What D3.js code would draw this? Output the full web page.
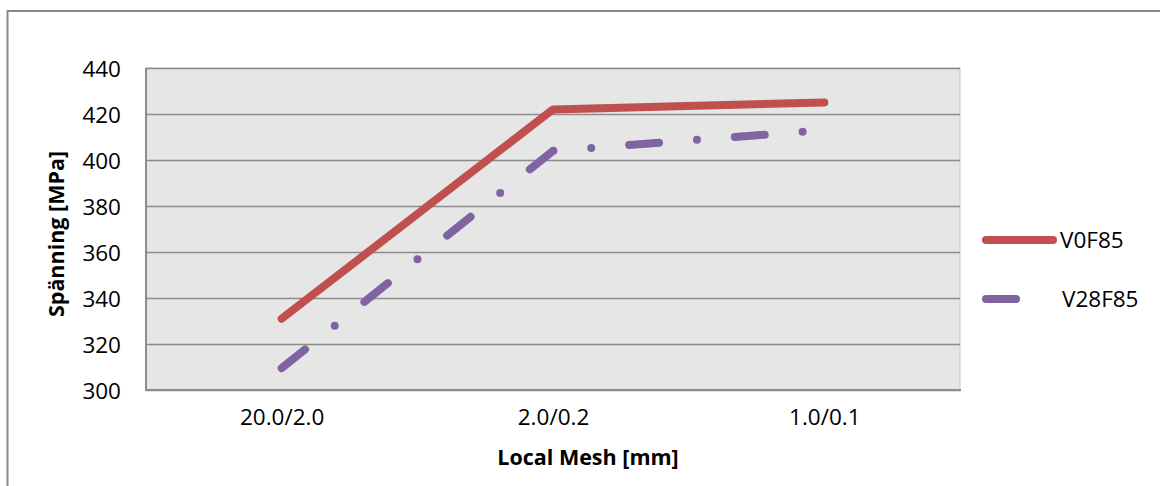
<!DOCTYPE html>
<html><head><meta charset="utf-8">
<script src="https://cdn.jsdelivr.net/npm/d3@7"></script>
<style>html,body{margin:0;padding:0;background:#fff;}svg{display:block;}</style>
</head><body>
<svg id="c" width="1160" height="486"></svg>
<script>
const categories = ["20.0/2.0", "2.0/0.2", "1.0/0.1"];
const seriesNames = ["V0F85", "V28F85"];
const v0f85 = [331, 422, 425];
const v28f85 = [309.5, 404, 413];
const yTicks = [300, 320, 340, 360, 380, 400, 420, 440];

const colors = {V0F85: "#C0504D", V28F85: "#8064A2"};
const dashes = {V0F85: null, V28F85: "30,38,0,38"};
const series = [
  {name: seriesNames[0], values: v0f85},
  {name: seriesNames[1], values: v28f85}
];

const svg = d3.select("#c");
const font = "'Open Sans', 'Noto Sans', sans-serif";
const L = 146, R = 960, T = 68, B = 390;

// outer border
svg.append("rect").attr("x", 7.5).attr("y", 11).attr("width", 1300).attr("height", 700)
  .attr("fill", "none").attr("stroke", "#898989").attr("stroke-width", 2);

const x = d3.scalePoint().domain(categories).range([L, R]).padding(0.5);
const y = d3.scaleLinear().domain([300, 440]).range([B, T]);

// plot background
svg.append("rect").attr("x", L).attr("y", T).attr("width", R - L).attr("height", B - T)
  .attr("fill", "#E6E6E6").attr("stroke", "#C8C8C8").attr("stroke-width", 1);

// gridlines
const yAxis = d3.axisLeft(y).tickValues(yTicks).tickSize(-(R - L)).tickPadding(25).tickFormat(d3.format("d"));
const gy = svg.append("g").attr("transform", `translate(${L},0)`).call(yAxis);
gy.select(".domain").remove();
gy.selectAll(".tick line").attr("stroke", "#8C8C8C").attr("stroke-width", 1.6);
gy.selectAll(".tick text").attr("font-family", font).attr("font-size", 22.5).attr("fill", "#000")
  .attr("dy", "0.36em");

// axis lines
svg.append("line").attr("x1", L).attr("x2", L).attr("y1", T).attr("y2", B + 1)
  .attr("stroke", "#8C8C8C").attr("stroke-width", 2);
svg.append("line").attr("x1", L).attr("x2", R + 1).attr("y1", B).attr("y2", B)
  .attr("stroke", "#8C8C8C").attr("stroke-width", 2);

// x axis labels
const xAxis = d3.axisBottom(x).tickSize(0).tickPadding(19);
const gx = svg.append("g").attr("transform", `translate(0,${B})`).call(xAxis);
gx.select(".domain").remove();
gx.selectAll(".tick text").attr("font-family", font).attr("font-size", 22.5).attr("fill", "#000")
  .attr("dy", "0.72em");

// lines
const line = d3.line().x((d, i) => x(categories[i])).y(d => y(d));
series.forEach(s => {
  const p = svg.append("path").datum(s.values).attr("d", line)
    .attr("fill", "none").attr("stroke", colors[s.name]).attr("stroke-width", 8)
    .attr("stroke-linecap", "round").attr("stroke-linejoin", "round");
  if (dashes[s.name]) p.attr("stroke-dasharray", dashes[s.name]);
});

// legend
const legendY = [240, 299];
const legendTextX = [1060, 1062];
series.forEach((s, i) => {
  const l = svg.append("line").attr("x1", 986).attr("x2", 1053)
    .attr("y1", legendY[i]).attr("y2", legendY[i])
    .attr("stroke", colors[s.name]).attr("stroke-width", 8).attr("stroke-linecap", "round");
  if (dashes[s.name]) l.attr("stroke-dasharray", dashes[s.name]);
  svg.append("text").attr("x", legendTextX[i]).attr("y", legendY[i] + 8)
    .attr("font-family", font).attr("font-size", 22.5).attr("fill", "#000").text(s.name);
});

// axis titles
svg.append("text").attr("x", 588).attr("y", 465).attr("text-anchor", "middle")
  .attr("font-family", font).attr("font-size", 21.5).attr("font-weight", "bold").attr("fill", "#000")
  .text("Local Mesh [mm]");
svg.append("text").attr("transform", "translate(64,234) rotate(-90)").attr("text-anchor", "middle")
  .attr("font-family", font).attr("font-size", 21.5).attr("font-weight", "bold").attr("fill", "#000")
  .text("Spänning [MPa]");
</script>
</body></html>
